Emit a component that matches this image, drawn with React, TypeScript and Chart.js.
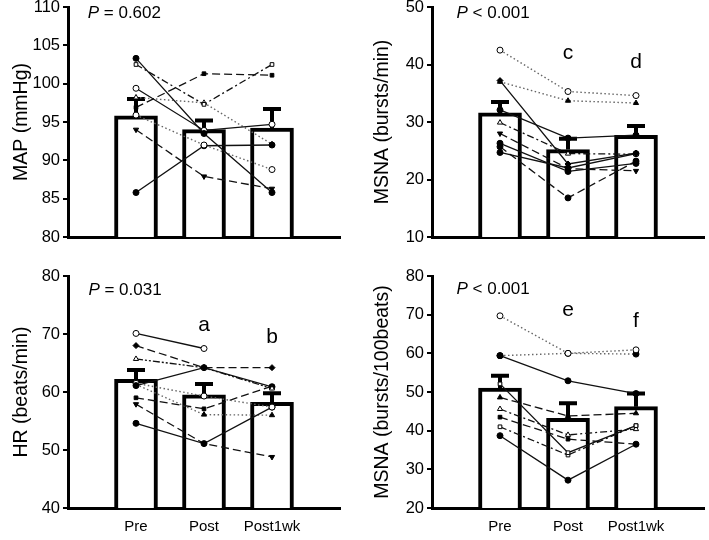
import React, { useEffect, useRef } from 'react';
import { Chart, registerables } from 'chart.js';
Chart.register(...registerables);

const FAM = "'Liberation Sans', Arial, Helvetica, sans-serif";

const categories = ['Pre', 'Post', 'Post1wk'];

// MAP (mmHg)
const mapMean = [95.8, 94.0, 94.2];
const mapSem = [2.2, 1.2, 2.5];
const mapSubjects: (number | null)[][] = [
  [103.3, 93.5, 85.8],
  [102.5, 97.3, 102.5],
  [99.4, 93.9, 94.7],
  [96.9, 101.3, 101.1],
  [95.9, 92.0, 88.8],
  [94.0, 87.9, 86.3],
  [85.8, 91.9, 92.0],
  [98.2, 97.5, 92.1],
];

// MSNA (bursts/min)
const burstMean = [31.6, 25.2, 27.7];
const burstSem = [1.9, 1.9, 1.6];
const burstSubjects: (number | null)[][] = [
  [42.5, 35.3, 34.6],
  [37.0, 33.7, 33.3],
  [37.2, 22.7, 24.6],
  [32.1, 27.2, 27.7],
  [29.9, 24.5, 24.4],
  [28.0, 21.9, 21.5],
  [26.3, 21.4, 22.8],
  [25.7, 16.8, 23.2],
  [24.7, 22.0, 24.5],
];

// HR (beats/min)
const hrMean = [62.2, 59.5, 58.2];
const hrSem = [1.6, 1.9, 1.6];
const hrSubjects: (number | null)[][] = [
  [70.1, 67.5, null],
  [68.0, 64.2, 64.2],
  [65.7, 64.2, 60.6],
  [61.1, 64.2, 60.9],
  [61.5, 59.3, 57.4],
  [59.0, 57.1, 61.0],
  [57.9, 51.1, 48.8],
  [54.6, 51.1, 57.4],
  [61.3, 56.1, 56.0],
];

// MSNA (bursts/100beats)
const incMean = [51.0, 43.2, 46.2];
const incSem = [3.2, 3.9, 3.4];
const incSubjects: (number | null)[][] = [
  [69.7, 60.0, 60.9],
  [59.4, 60.0, 59.8],
  [59.4, 52.9, 49.6],
  [52.1, 34.3, 41.3],
  [48.6, 43.8, 44.5],
  [45.6, 38.9, 40.4],
  [43.5, 37.8, 36.5],
  [41.0, 33.7, 41.3],
  [38.7, 27.2, 36.5],
];

type Sty = [string, boolean, string]; // shape, filled, dash

const DASHES: Record<string, number[]> = {
  solid: [],
  longDash: [8, 4],
  dotted: [1.5, 2.5],
  dashDot: [7, 3, 2, 3],
  dashDotDot: [7, 2, 2, 2, 2, 2],
};

const mapStyles: Sty[] = [
  ['circle', true, 'solid'], ['rect', false, 'dashDot'], ['circle', false, 'solid'], ['rect', true, 'longDash'],
  ['circle', false, 'dotted'], ['triDown', true, 'longDash'], ['circle', true, 'solid'], ['triangle', false, 'dotted'],
];
const burstStyles: Sty[] = [
  ['circle', false, 'dotted'], ['triangle', true, 'dotted'], ['rectRot', true, 'solid'], ['circle', true, 'solid'],
  ['triangle', false, 'dashDot'], ['triDown', true, 'longDash'], ['circle', true, 'solid'], ['circle', true, 'longDash'],
  ['circle', true, 'solid'],
];
const hrStyles: Sty[] = [
  ['circle', false, 'solid'], ['rectRot', true, 'longDash'], ['triangle', false, 'dashDotDot'], ['circle', true, 'solid'],
  ['circle', false, 'dotted'], ['rect', true, 'longDash'], ['triDown', true, 'longDash'], ['circle', true, 'solid'],
  ['triangle', true, 'dotted'],
];
const incStyles: Sty[] = [
  ['circle', false, 'dotted'], ['circle', true, 'dotted'], ['circle', true, 'solid'], ['rect', false, 'solid'],
  ['triangle', true, 'longDash'], ['triangle', false, 'dashDot'], ['rect', true, 'longDash'], ['rect', false, 'dashDot'],
  ['circle', true, 'solid'],
];

type PanelCfg = {
  left: number; top: number; w: number; h: number;
  padTop: number; padRight: number; yW: number; xH: number; titlePad: number;
  showX: boolean; yMin: number; yMax: number; step: number; title: string;
  mean: number[]; sem: number[]; subjects: (number | null)[][]; styles: Sty[];
  pText: string; pX: number; pY: number; letters: { x: number; y: number; t: string }[];
};

const panels: PanelCfg[] = [
  {
    left: 0, top: 0, w: 350, h: 250, padTop: 7, padRight: 10, yW: 68, xH: 13, titlePad: 10,
    showX: false, yMin: 80, yMax: 110, step: 5, title: 'MAP (mmHg)',
    mean: mapMean, sem: mapSem, subjects: mapSubjects, styles: mapStyles,
    pText: ' = 0.602', pX: 0.29, pY: 109.2, letters: [],
  },
  {
    left: 355, top: 0, w: 354, h: 250, padTop: 7, padRight: 1, yW: 77, xH: 13, titlePad: 16,
    showX: false, yMin: 10, yMax: 50, step: 10, title: 'MSNA (bursts/min)',
    mean: burstMean, sem: burstSem, subjects: burstSubjects, styles: burstStyles,
    pText: ' < 0.001', pX: 0.36, pY: 48.9,
    letters: [{ x: 2, y: 41.9, t: 'c' }, { x: 3, y: 40.4, t: 'd' }],
  },
  {
    left: 0, top: 250, w: 350, h: 290, padTop: 26, padRight: 10, yW: 68, xH: 32, titlePad: 10,
    showX: true, yMin: 40, yMax: 80, step: 10, title: 'HR (beats/min)',
    mean: hrMean, sem: hrSem, subjects: hrSubjects, styles: hrStyles,
    pText: ' = 0.031', pX: 0.3, pY: 77.6,
    letters: [{ x: 2, y: 71.6, t: 'a' }, { x: 3, y: 69.4, t: 'b' }],
  },
  {
    left: 355, top: 250, w: 354, h: 290, padTop: 26, padRight: 1, yW: 77, xH: 32, titlePad: 16,
    showX: true, yMin: 20, yMax: 80, step: 10, title: 'MSNA (bursts/100beats)',
    mean: incMean, sem: incSem, subjects: incSubjects, styles: incStyles,
    pText: ' < 0.001', pX: 0.36, pY: 76.6,
    letters: [{ x: 2, y: 71.2, t: 'e' }, { x: 3, y: 68.2, t: 'f' }],
  },
];

function Panel({ cfg }: { cfg: PanelCfg }) {
  const ref = useRef<HTMLCanvasElement>(null);
  useEffect(() => {
    const errorPlugin = {
      id: 'errbars',
      afterDatasetDraw(chart: any, args: any) {
        if (args.index !== 0) return;
        const { ctx, scales } = chart;
        const xs = scales.x, ys = scales.y;
        ctx.save();
        ctx.strokeStyle = '#000';
        ctx.lineWidth = 4;
        ctx.lineCap = 'butt';
        cfg.mean.forEach((m, i) => {
          const px = xs.getPixelForValue(i + 1);
          const y0 = ys.getPixelForValue(m);
          const y1 = ys.getPixelForValue(m + cfg.sem[i]);
          ctx.beginPath();
          ctx.moveTo(px, y0);
          ctx.lineTo(px, y1);
          ctx.moveTo(px - 9, y1);
          ctx.lineTo(px + 9, y1);
          ctx.stroke();
        });
        ctx.restore();
      },
    };
    const textPlugin = {
      id: 'annot',
      afterDraw(chart: any) {
        const { ctx, scales } = chart;
        const xs = scales.x, ys = scales.y;
        ctx.save();
        ctx.fillStyle = '#000';
        ctx.textBaseline = 'middle';
        ctx.textAlign = 'left';
        const px = xs.getPixelForValue(cfg.pX);
        const py = ys.getPixelForValue(cfg.pY);
        ctx.font = `italic 17px ${FAM}`;
        ctx.fillText('P', px, py);
        const w = ctx.measureText('P').width;
        ctx.font = `17px ${FAM}`;
        ctx.fillText(cfg.pText, px + w, py);
        ctx.textAlign = 'center';
        ctx.font = `21px ${FAM}`;
        cfg.letters.forEach((l) => {
          ctx.fillText(l.t, xs.getPixelForValue(l.x), ys.getPixelForValue(l.y));
        });
        ctx.restore();
      },
    };

    const lineSets = cfg.subjects.map((vals, k) => {
      const [shape, filled, dash] = cfg.styles[k];
      const dotted = dash === 'dotted';
      return {
        type: 'line' as const,
        data: vals.map((v, i) => ({ x: i + 1, y: v })),
        borderColor: dotted ? '#666' : '#111',
        borderWidth: dotted ? 1.4 : 1.3,
        borderDash: DASHES[dash],
        pointStyle: shape === 'triDown' ? 'triangle' : shape,
        rotation: shape === 'triDown' ? 180 : 0,
        pointRotation: shape === 'triDown' ? 180 : 0,
        pointRadius: shape === 'rect' ? 2.6 : 3,
        pointBackgroundColor: filled ? '#000' : '#fff',
        pointBorderColor: '#000',
        pointBorderWidth: 1,
        spanGaps: false,
        tension: 0,
        fill: false,
        order: 1,
      };
    });

    const chart = new Chart(ref.current as HTMLCanvasElement, {
      type: 'bar',
      data: {
        datasets: [
          {
            type: 'bar',
            data: cfg.mean.map((m, i) => ({ x: i + 1, y: [cfg.yMin, m] })) as any,
            backgroundColor: '#fff',
            borderColor: '#000',
            borderWidth: 4,
            borderSkipped: 'start',
            barThickness: 43,
            order: 10,
          } as any,
          ...(lineSets as any[]),
        ],
      },
      options: {
        animation: false,
        responsive: false,
        events: [],
        layout: { padding: { top: cfg.padTop, right: cfg.padRight, bottom: 0, left: 0 } },
        plugins: { legend: { display: false }, tooltip: { enabled: false } },
        scales: {
          x: {
            type: 'linear',
            min: 0,
            max: 4,
            offset: false,
            afterBuildTicks: (s: any) => {
              s.ticks = categories.map((_, i) => ({ value: i + 1 }));
            },
            afterFit: (s: any) => {
              s.height = cfg.xH;
              s.paddingLeft = 0;
              s.paddingRight = 0;
            },
            grid: { display: true, drawOnChartArea: false, drawTicks: false, color: '#000' },
            border: { display: true, width: 3, color: '#000' },
            ticks: {
              display: cfg.showX,
              autoSkip: false,
              maxRotation: 0,
              padding: 10,
              color: '#000',
              font: { family: FAM, size: 15 },
              callback: (v: any) => categories[Number(v) - 1] ?? '',
            },
          },
          y: {
            type: 'linear',
            min: cfg.yMin,
            max: cfg.yMax,
            afterFit: (s: any) => {
              s.width = cfg.yW;
              s.paddingTop = 0;
              s.paddingBottom = 0;
            },
            ticks: { stepSize: cfg.step, padding: 3, color: '#000', font: { family: FAM, size: 16.5 } },
            grid: { display: true, drawOnChartArea: false, drawTicks: true, tickLength: 5, color: '#000', lineWidth: 2 },
            border: { display: true, width: 3, color: '#000' },
            title: {
              display: true,
              text: cfg.title,
              color: '#000',
              font: { family: FAM, size: 19.5 },
              padding: { top: cfg.titlePad, bottom: 0 },
            },
          },
        },
      } as any,
      plugins: [errorPlugin, textPlugin],
    });
    return () => chart.destroy();
  }, []);
  return (
    <canvas
      ref={ref}
      width={cfg.w}
      height={cfg.h}
      style={{ position: 'absolute', left: cfg.left, top: cfg.top, width: cfg.w, height: cfg.h }}
    />
  );
}

export default function App() {
  return (
    <div style={{ position: 'absolute', left: 0, top: 0, width: 709, height: 540, background: '#fff' }}>
      {panels.map((p, i) => (
        <Panel key={i} cfg={p} />
      ))}
    </div>
  );
}
